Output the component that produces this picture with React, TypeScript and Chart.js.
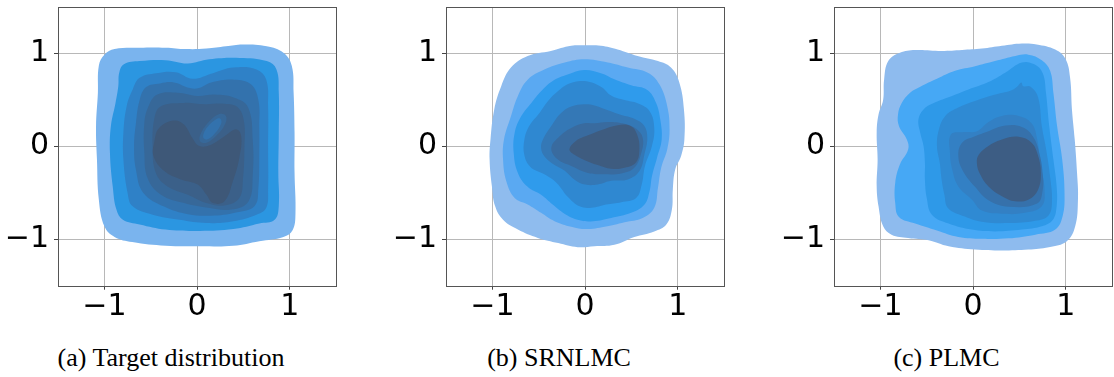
import { useEffect, useRef } from 'react';
import { Chart, registerables } from 'chart.js';

Chart.register(...registerables);

// ---------- axes ----------
const axisRange = [-1.5, 1.5];
const tickValues = [-1, 0, 1];
const tickLabels = ['\u22121', '0', '1'];
const captions = ['(a) Target distribution', '(b) SRNLMC', '(c) PLMC'];

// ---------- (a) Target distribution: contour levels, outer -> inner ----------
const targetL1 = [[-1.07,0.58],[-1.06,0.87],[-1.0,0.99],[-0.89,1.05],[-0.62,1.065],[-0.34,1.065],[-0.12,1.05],[0.10,1.055],[0.31,1.08],[0.49,1.10],[0.75,1.08],[0.93,1.01],[1.02,0.87],[1.04,0.58],[1.05,0.15],[1.05,-0.28],[1.06,-0.72],[1.03,-0.90],[0.93,-0.975],[0.67,-1.02],[0.39,-1.07],[0.03,-1.075],[-0.34,-1.07],[-0.70,-1.03],[-0.89,-0.975],[-1.0,-0.86],[-1.06,-0.57],[-1.08,-0.14],[-1.09,0.22]];
const targetL2 = [[-0.85,0.65],[-0.84,0.795],[-0.79,0.885],[-0.62,0.92],[-0.34,0.93],[-0.10,0.895],[0.13,0.94],[0.46,0.955],[0.75,0.92],[0.855,0.83],[0.88,0.58],[0.88,0.15],[0.875,-0.28],[0.88,-0.64],[0.835,-0.79],[0.67,-0.83],[0.39,-0.89],[0.03,-0.91],[-0.34,-0.895],[-0.62,-0.84],[-0.80,-0.79],[-0.87,-0.68],[-0.91,-0.43],[-0.94,-0.07],[-0.93,0.22],[-0.88,0.47]];
const targetL3 = [[-0.76,0.435],[-0.695,0.615],[-0.62,0.74],[-0.44,0.79],[-0.23,0.80],[-0.05,0.73],[0.17,0.79],[0.39,0.85],[0.64,0.83],[0.745,0.72],[0.765,0.435],[0.765,-0.03],[0.765,-0.46],[0.745,-0.66],[0.64,-0.735],[0.39,-0.805],[0.10,-0.825],[-0.19,-0.79],[-0.48,-0.735],[-0.695,-0.645],[-0.75,-0.50],[-0.795,-0.14],[-0.795,0.15]];
const targetL4 = [[-0.66,0.25],[-0.62,0.50],[-0.55,0.64],[-0.40,0.68],[-0.25,0.69],[-0.08,0.63],[0.02,0.63],[0.15,0.69],[0.40,0.72],[0.58,0.67],[0.66,0.50],[0.67,0.20],[0.67,-0.10],[0.66,-0.45],[0.62,-0.64],[0.42,-0.71],[0.15,-0.745],[-0.10,-0.73],[-0.35,-0.65],[-0.58,-0.50],[-0.66,-0.25],[-0.68,0.0]];
const targetL5 = [[-0.57,0.24],[-0.53,0.42],[-0.43,0.56],[-0.21,0.58],[0.0,0.545],[0.19,0.56],[0.40,0.525],[0.55,0.42],[0.60,0.06],[0.60,-0.30],[0.555,-0.59],[0.37,-0.68],[0.115,-0.66],[-0.14,-0.61],[-0.39,-0.52],[-0.535,-0.34],[-0.57,-0.05]];
const targetL6 = [[-0.48,-0.01],[-0.46,0.31],[-0.39,0.435],[-0.14,0.47],[0.08,0.455],[0.295,0.46],[0.44,0.42],[0.505,0.27],[0.51,-0.01],[0.495,-0.34],[0.455,-0.555],[0.295,-0.635],[0.10,-0.61],[-0.10,-0.52],[-0.32,-0.43],[-0.445,-0.285]];
const targetL7 = [[-0.46,0.06],[-0.41,0.20],[-0.25,0.28],[-0.14,0.235],[-0.05,0.09],[0.025,0.005],[0.15,0.02],[0.295,0.11],[0.42,0.185],[0.475,0.11],[0.455,-0.12],[0.385,-0.375],[0.295,-0.59],[0.17,-0.61],[0.10,-0.52],[0.005,-0.41],[-0.175,-0.355],[-0.355,-0.265],[-0.47,-0.105]];
const targetHoleRing = [[0.03,0.06],[0.10,0.04],[0.21,0.12],[0.30,0.24],[0.31,0.33],[0.24,0.35],[0.13,0.27],[0.04,0.14]];
const targetHoleCore = [[0.07,0.09],[0.12,0.08],[0.20,0.15],[0.26,0.25],[0.25,0.30],[0.20,0.29],[0.12,0.22],[0.07,0.14]];

// ---------- (b) SRNLMC ----------
const srnlmcL1 = [[-0.01,1.09],[-0.15,1.085],[-0.37,1.03],[-0.62,0.975],[-0.80,0.85],[-0.905,0.65],[-0.98,0.40],[-1.02,0.08],[-1.03,-0.14],[-1.005,-0.43],[-0.97,-0.645],[-0.885,-0.79],[-0.725,-0.895],[-0.51,-0.985],[-0.29,-1.04],[-0.08,-1.085],[0.10,-1.075],[0.315,-1.06],[0.53,-0.975],[0.745,-0.915],[0.875,-0.84],[0.935,-0.68],[0.945,-0.465],[0.97,-0.25],[1.035,-0.10],[1.07,0.08],[1.065,0.40],[1.015,0.69],[0.925,0.85],[0.785,0.92],[0.565,0.975],[0.35,1.045],[0.17,1.085]];
const srnlmcL2 = [[-0.01,0.94],[-0.22,0.905],[-0.44,0.83],[-0.62,0.72],[-0.725,0.545],[-0.80,0.325],[-0.875,0.075],[-0.885,-0.14],[-0.85,-0.375],[-0.76,-0.555],[-0.62,-0.625],[-0.475,-0.715],[-0.33,-0.805],[-0.15,-0.865],[0.01,-0.89],[0.21,-0.865],[0.425,-0.815],[0.62,-0.77],[0.745,-0.66],[0.785,-0.445],[0.82,-0.23],[0.885,-0.03],[0.91,0.185],[0.885,0.435],[0.80,0.67],[0.675,0.795],[0.46,0.85],[0.245,0.905]];
const srnlmcL3 = [[-0.01,0.825],[-0.19,0.775],[-0.35,0.705],[-0.475,0.595],[-0.58,0.47],[-0.69,0.325],[-0.76,0.145],[-0.77,-0.07],[-0.725,-0.285],[-0.62,-0.435],[-0.475,-0.52],[-0.35,-0.625],[-0.205,-0.735],[-0.06,-0.795],[0.085,-0.805],[0.28,-0.77],[0.495,-0.715],[0.64,-0.625],[0.695,-0.48],[0.72,-0.32],[0.775,-0.12],[0.825,0.075],[0.81,0.29],[0.765,0.47],[0.67,0.61],[0.495,0.66],[0.315,0.725],[0.17,0.79]];
const srnlmcL4 = [[-0.01,0.705],[-0.17,0.68],[-0.295,0.595],[-0.40,0.49],[-0.49,0.365],[-0.60,0.225],[-0.655,0.075],[-0.655,-0.095],[-0.59,-0.22],[-0.44,-0.30],[-0.31,-0.39],[-0.185,-0.545],[-0.06,-0.645],[0.07,-0.66],[0.225,-0.625],[0.39,-0.60],[0.55,-0.555],[0.61,-0.41],[0.645,-0.21],[0.72,0.005],[0.745,0.20],[0.695,0.38],[0.565,0.465],[0.425,0.50],[0.28,0.55],[0.17,0.645]];
const srnlmcL5 = [[-0.01,0.455],[-0.15,0.43],[-0.265,0.355],[-0.365,0.22],[-0.455,0.075],[-0.475,-0.015],[-0.44,-0.105],[-0.35,-0.185],[-0.22,-0.26],[-0.11,-0.36],[0.0,-0.41],[0.135,-0.41],[0.28,-0.37],[0.46,-0.355],[0.585,-0.265],[0.64,-0.08],[0.67,0.095],[0.635,0.225],[0.53,0.30],[0.39,0.34],[0.245,0.39],[0.11,0.44]];
const srnlmcL6 = [[-0.01,0.25],[-0.15,0.20],[-0.275,0.11],[-0.365,-0.015],[-0.30,-0.135],[-0.15,-0.21],[0.03,-0.285],[0.21,-0.30],[0.39,-0.29],[0.53,-0.23],[0.61,-0.05],[0.62,0.095],[0.55,0.19],[0.425,0.245],[0.245,0.265],[0.10,0.25]];
const srnlmcL7 = [[-0.17,-0.03],[-0.10,0.06],[0.03,0.12],[0.17,0.175],[0.35,0.23],[0.49,0.22],[0.56,0.13],[0.585,-0.025],[0.55,-0.17],[0.425,-0.23],[0.28,-0.24],[0.135,-0.20],[-0.01,-0.145],[-0.115,-0.09]];

// ---------- (c) PLMC ----------
const plmcL1 = [[-0.96,0.72],[-0.915,0.92],[-0.79,1.01],[-0.625,1.04],[-0.34,1.03],[-0.12,1.04],[0.095,1.055],[0.31,1.085],[0.525,1.11],[0.685,1.10],[0.885,1.045],[0.995,0.945],[1.045,0.74],[1.065,0.40],[1.095,0.075],[1.12,-0.285],[1.13,-0.57],[1.10,-0.86],[1.01,-1.02],[0.815,-1.085],[0.595,-1.11],[0.31,-1.12],[0.02,-1.11],[-0.265,-1.075],[-0.48,-1.01],[-0.70,-0.985],[-0.88,-0.95],[-0.97,-0.86],[-1.02,-0.645],[-1.04,-0.43],[-1.03,-0.14],[-1.04,0.15],[-1.02,0.345],[-0.97,0.505]];
const plmcL2 = [[-0.81,0.345],[-0.77,0.47],[-0.68,0.58],[-0.57,0.645],[-0.39,0.73],[-0.195,0.815],[0.02,0.865],[0.235,0.92],[0.455,0.975],[0.595,0.99],[0.74,0.93],[0.83,0.815],[0.865,0.58],[0.905,0.22],[0.96,-0.14],[0.985,-0.50],[0.965,-0.75],[0.885,-0.895],[0.67,-0.95],[0.38,-0.99],[0.095,-0.995],[-0.16,-0.975],[-0.39,-0.905],[-0.625,-0.83],[-0.80,-0.76],[-0.84,-0.61],[-0.84,-0.39],[-0.79,-0.195],[-0.70,-0.03],[-0.715,0.075],[-0.80,0.22]];
const plmcL3 = [[-0.59,0.29],[-0.535,0.40],[-0.43,0.465],[-0.265,0.53],[-0.05,0.615],[0.165,0.695],[0.345,0.795],[0.525,0.905],[0.66,0.885],[0.75,0.79],[0.785,0.58],[0.82,0.22],[0.865,-0.14],[0.90,-0.43],[0.90,-0.645],[0.86,-0.79],[0.74,-0.86],[0.525,-0.895],[0.235,-0.915],[-0.015,-0.895],[-0.265,-0.83],[-0.445,-0.735],[-0.50,-0.555],[-0.52,-0.355],[-0.52,-0.175],[-0.535,0.005],[-0.57,0.145]];
const plmcL4 = [[-0.39,0.0],[-0.37,0.18],[-0.30,0.33],[-0.16,0.42],[0.02,0.49],[0.24,0.56],[0.40,0.60],[0.47,0.64],[0.52,0.69],[0.54,0.65],[0.62,0.645],[0.70,0.53],[0.74,0.22],[0.79,-0.05],[0.83,-0.33],[0.85,-0.60],[0.81,-0.745],[0.67,-0.80],[0.38,-0.825],[0.09,-0.81],[-0.09,-0.755],[-0.27,-0.665],[-0.31,-0.52],[-0.34,-0.355],[-0.36,-0.175]];
const plmcL5 = [[-0.25,-0.07],[-0.24,0.13],[-0.10,0.155],[0.04,0.165],[0.165,0.265],[0.31,0.33],[0.49,0.33],[0.63,0.25],[0.69,0.08],[0.73,-0.21],[0.77,-0.46],[0.74,-0.645],[0.56,-0.715],[0.31,-0.725],[0.095,-0.69],[-0.015,-0.57],[-0.16,-0.43],[-0.225,-0.25]];
const plmcL6 = [[-0.16,-0.10],[-0.12,0.04],[0.02,0.11],[0.165,0.165],[0.345,0.225],[0.525,0.21],[0.65,0.10],[0.72,-0.10],[0.75,-0.30],[0.75,-0.47],[0.69,-0.615],[0.38,-0.65],[0.165,-0.58],[0.02,-0.435],[-0.115,-0.255]];
const plmcL7 = [[0.04,-0.18],[0.06,-0.09],[0.165,0.005],[0.31,0.075],[0.49,0.105],[0.63,0.04],[0.70,-0.10],[0.73,-0.285],[0.70,-0.465],[0.60,-0.57],[0.45,-0.59],[0.31,-0.535],[0.165,-0.43],[0.075,-0.30]];

// ---------- colours (outer -> inner) ----------
const targetColors = ['#7ab4ee', '#2b96e1', '#2f81c7', '#3372ad', '#376899', '#3b6089', '#3e5878', '#376899', '#3372ad'];
const srnlmcColors = ['#8fbcee', '#5aa9f2', '#2f9bec', '#2f88d1', '#3478b6', '#396b9f', '#3e5c80'];
const plmcColors = ['#8ebbee', '#46a8f5', '#2e99e8', '#2f8ad3', '#3380c4', '#3671ab', '#3d5d84'];

const panels = [
  { levels: [targetL1, targetL2, targetL3, targetL4, targetL5, targetL6, targetL7, targetHoleRing, targetHoleCore], colors: targetColors, plotLeft: 58, captionX: 171 },
  { levels: [srnlmcL1, srnlmcL2, srnlmcL3, srnlmcL4, srnlmcL5, srnlmcL6, srnlmcL7], colors: srnlmcColors, plotLeft: 445.7, captionX: 559 },
  { levels: [plmcL1, plmcL2, plmcL3, plmcL4, plmcL5, plmcL6, plmcL7], colors: plmcColors, plotLeft: 833.7, captionX: 946.5 },
];

const CANVAS_W = 340;
const CANVAS_H = 330;
const Y_AXIS_W = 58;
const PLOT_W = 278.3;
const PLOT_TOP = 7.3;
const PLOT_BOTTOM = 285.7;

// closes each contour line smoothly (like a radar loop)
const closedLoopPlugin = {
  id: 'closedLoop',
  afterDatasetUpdate(_chart: any, args: any) {
    const line = args.meta && args.meta.dataset;
    if (line) {
      line._loop = true;
      line._fullLoop = true;
      line._pointsUpdated = false;
      delete line._segments;
      delete line._path;
    }
  },
};

const framePlugin = {
  id: 'frame',
  afterDraw(chart: any) {
    const { ctx, chartArea } = chart;
    ctx.save();
    ctx.strokeStyle = '#555555';
    ctx.lineWidth = 1;
    ctx.strokeRect(
      Math.round(chartArea.left) + 0.5,
      Math.round(chartArea.top) + 0.5,
      Math.round(chartArea.right) - Math.round(chartArea.left),
      Math.round(chartArea.bottom) - Math.round(chartArea.top)
    );
    ctx.restore();
  },
};

function scaleOptions(isX: boolean) {
  return {
    type: 'linear' as const,
    min: axisRange[0],
    max: axisRange[1],
    z: 1,
    afterBuildTicks: (scale: any) => {
      scale.ticks = tickValues.map((v) => ({ value: v }));
    },
    afterFit: (scale: any) => {
      if (isX) scale.height = CANVAS_H - PLOT_BOTTOM;
      else scale.width = Y_AXIS_W;
      scale.paddingTop = 0;
      scale.paddingBottom = 0;
      scale.paddingLeft = 0;
      scale.paddingRight = 0;
    },
    grid: {
      color: '#b8b8b8',
      lineWidth: 1,
      drawTicks: true,
      tickLength: 4,
      tickColor: '#444444',
    },
    border: { display: false },
    ticks: {
      autoSkip: false,
      maxRotation: 0,
      padding: isX ? 0 : 5,
      color: '#000000',
      font: { family: 'DejaVu Sans', size: 30 },
      callback: (_v: any, i: number) => tickLabels[i],
    },
  };
}

function Panel({ index }: { index: number }) {
  const ref = useRef<HTMLCanvasElement | null>(null);
  const panel = panels[index];
  useEffect(() => {
    if (!ref.current) return;
    const n = panel.levels.length;
    const datasets = panel.levels.map((pts, i) => ({
      data: pts.map(([x, y]) => ({ x, y })),
      showLine: true,
      fill: 'shape',
      tension: 0.4,
      borderWidth: 0,
      pointRadius: 0,
      pointHoverRadius: 0,
      backgroundColor: panel.colors[i],
      borderColor: panel.colors[i],
      order: n - i,
    }));
    const chart = new Chart(ref.current, {
      type: 'scatter',
      data: { datasets } as any,
      options: {
        responsive: false,
        animation: false,
        devicePixelRatio: 1,
        events: [],
        layout: {
          padding: {
            left: 0,
            top: PLOT_TOP,
            right: CANVAS_W - Y_AXIS_W - PLOT_W,
            bottom: 0,
          },
        },
        plugins: {
          legend: { display: false },
          tooltip: { enabled: false },
        },
        scales: {
          x: scaleOptions(true),
          y: scaleOptions(false),
        },
      } as any,
      plugins: [closedLoopPlugin, framePlugin],
    });
    return () => chart.destroy();
  }, [index]);

  return (
    <canvas
      ref={ref}
      width={CANVAS_W}
      height={CANVAS_H}
      style={{
        position: 'absolute',
        left: panel.plotLeft - Y_AXIS_W,
        top: 0,
        width: CANVAS_W,
        height: CANVAS_H,
      }}
    />
  );
}

export default function App() {
  return (
    <div
      style={{
        position: 'fixed',
        left: 0,
        top: 0,
        width: 1114,
        height: 377,
        overflow: 'hidden',
        background: '#ffffff',
      }}
    >
      {panels.map((_, i) => (
        <Panel key={i} index={i} />
      ))}
      {panels.map((p, i) => (
        <div
          key={'c' + i}
          style={{
            position: 'absolute',
            left: p.captionX,
            top: 345,
            transform: 'translateX(-50%)',
            fontFamily: '"Liberation Serif", "Times New Roman", serif',
            fontSize: 26,
            lineHeight: '26px',
            whiteSpace: 'nowrap',
            color: '#000000',
          }}
        >
          {captions[i]}
        </div>
      ))}
    </div>
  );
}
